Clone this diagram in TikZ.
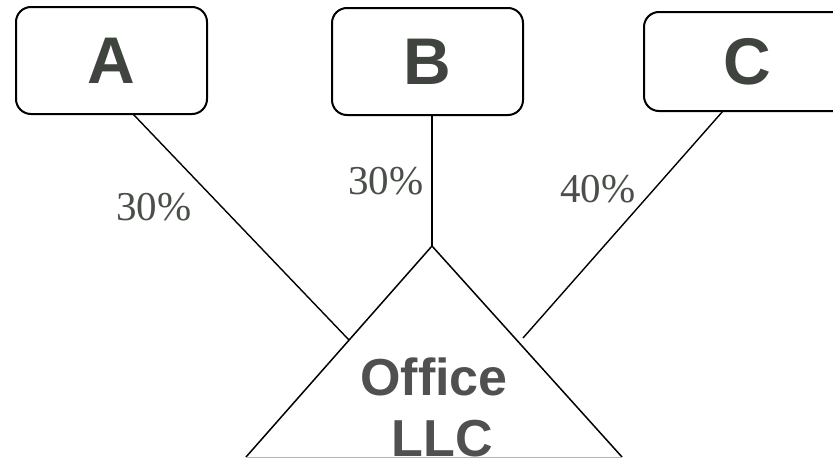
\documentclass[tikz,border=0pt]{standalone}
\usepackage{fontspec}
\setmainfont{Liberation Serif}
\newfontfamily\boxfont{Liberation Sans}
\definecolor{lettergray}{HTML}{40443F}
\definecolor{officegray}{HTML}{505050}
\definecolor{pctgray}{HTML}{4A4F4A}
\definecolor{basegray}{HTML}{B4B4B4}
\tikzset{
  ent/.style={draw=black, line width=2pt, rounded corners=15pt, fill=white,
    inner sep=0pt, text=lettergray, font=\boxfont\bfseries\fontsize{66}{66}\selectfont},
  pct/.style={inner sep=0pt, text=pctgray, font=\fontsize{41}{41}\selectfont},
  office/.style={inner sep=0pt, anchor=base, text=officegray, font=\boxfont\bfseries\fontsize{52}{52}\selectfont},
  link/.style={draw=black, line width=1.4pt},
  tri/.style={draw=black, line width=1.5pt}
}
\begin{document}
\begin{tikzpicture}[x=1pt,y=-1pt]
\useasboundingbox (0,0) rectangle (833,458);
\begin{scope}
\clip (0,0) rectangle (833,458);
\fill[white] (0,0) rectangle (833,458);
% boxes
\node[ent, minimum width=191pt, minimum height=107pt] (A) at (111.5,60.5) {A};
\node[ent, minimum width=191pt, minimum height=107pt] (B) at (427.5,61.5) {B};
\node[ent, minimum width=206pt, minimum height=99pt] (C) at (747,61.5) {C};
% triangle
\coordinate (apex) at (432,246);
\coordinate (bl) at (246,457);
\coordinate (br) at (622,457);
\draw[tri] (bl) -- (apex) -- (br);
\draw[basegray, line width=1pt] (bl) -- (br);
\node[office] (office) at (434,395) {Office};
\node[office] (llc) at (442,456) {LLC};
% connectors
\coordinate (a1) at (133,114);
\coordinate (a2) at (349,340);
\coordinate (c1) at (723,111);
\coordinate (c2) at (523,338);
\draw[link] (a1) -- (a2);
\draw[link, line width=2.2pt] (B.south -| apex) -- (apex);
\draw[link] (c1) -- (c2);
% labels
\node[pct] (pa) at (154,207) {30\%};
\node[pct] (pb) at (386,181) {30\%};
\node[pct] (pc) at (598,189) {40\%};
\end{scope}
\end{tikzpicture}
\end{document}
